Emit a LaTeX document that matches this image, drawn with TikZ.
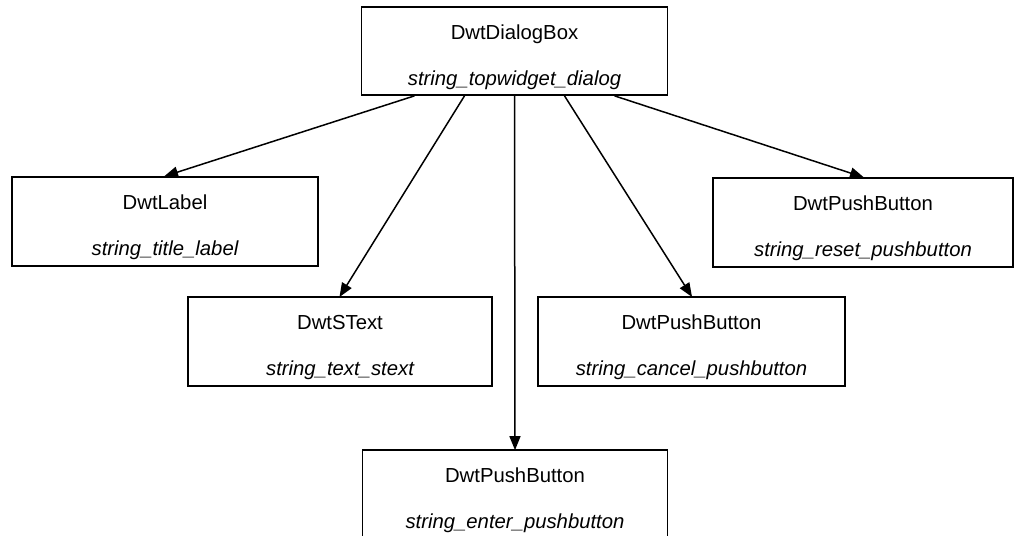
\documentclass[tikz,border=0pt]{standalone}
\usepackage{fontspec}
\setmainfont{Liberation Sans}
\usetikzlibrary{arrows.meta}
\newcommand{\upstrut}{\rule{0pt}{27pt}}
\begin{document}
\begin{tikzpicture}[x=1pt,y=-1pt,
  widget/.style={draw=black, line width=1.7pt, rectangle, inner sep=0pt,
    minimum height=89pt, align=center,
    font=\fontsize{20.3}{46}\selectfont},
  arr/.style={line width=1.5pt, -{Triangle[length=14pt,width=11pt]}, shorten >=-1pt}]
\useasboundingbox (0,0) rectangle (1016,535);
\clip (0,0) rectangle (1016,535);
\node[widget, minimum width=306pt, minimum height=88pt] (dlg) at (514.5,51) {\upstrut DwtDialogBox\\\itshape string\_topwidget\_dialog};
\node[widget, minimum width=306pt] (lab) at (165,221.5) {\upstrut DwtLabel\\\itshape string\_title\_label};
\node[widget, minimum width=300pt] (rst) at (863,222.5) {\upstrut DwtPushButton\\\itshape string\_reset\_pushbutton};
\node[widget, minimum width=304pt] (stx) at (340,341.5) {\upstrut DwtSText\\\itshape string\_text\_stext};
\node[widget, minimum width=307pt] (cnl) at (691.5,341.5) {\upstrut DwtPushButton\\\itshape string\_cancel\_pushbutton};
\node[widget, minimum width=305pt] (ent) at (515,494.5) {\upstrut DwtPushButton\\\itshape string\_enter\_pushbutton};
\draw[arr] ([xshift=-100pt]dlg.south) -- (lab.north);
\draw[arr] ([xshift=-50pt]dlg.south) -- (stx.north);
\draw[arr] (dlg.south) -- (ent.north);
\draw[arr] ([xshift=50pt]dlg.south) -- (cnl.north);
\draw[arr] ([xshift=100pt]dlg.south) -- (rst.north);
\end{tikzpicture}
\end{document}
